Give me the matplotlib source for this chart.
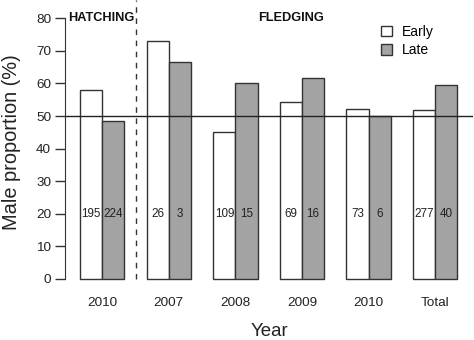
import matplotlib
matplotlib.use("Agg")
import matplotlib.pyplot as plt
from matplotlib.patches import Patch

plt.rcParams['font.family'] = ['Liberation Sans', 'DejaVu Sans']

groups = ["2010", "2007", "2008", "2009", "2010", "Total"]
early = [58.0, 73.1, 45.0, 54.3, 52.1, 51.9]
late = [48.6, 66.7, 60.1, 61.6, 50.0, 59.5]
n_early = ["195", "26", "109", "69", "73", "277"]
n_late = ["224", "3", "15", "16", "6", "40"]

W, H = 474, 340
fig = plt.figure(figsize=(W / 100, H / 100), dpi=100)
ax_left, ax_right = 65 / W, 472.5 / W
ax_bot, ax_top = (H - 289.4) / H, (H - 7.9) / H
ax = fig.add_axes([ax_left, ax_bot, ax_right - ax_left, ax_top - ax_bot])

xe = [1.5 + 3 * i for i in range(len(groups))]
xl = [2.5 + 3 * i for i in range(len(groups))]
ax.bar(xe, early, width=1.0, color="white", edgecolor="#333333", linewidth=1.0, zorder=2)
ax.bar(xl, late, width=1.0, color="#a3a3a3", edgecolor="#333333", linewidth=1.0, zorder=2)

for x, t in zip(xe, n_early):
    ax.text(x, 20, t, ha="center", va="center", fontsize=8.4, color="#222222", zorder=3)
for x, t in zip(xl, n_late):
    ax.text(x, 20, t, ha="center", va="center", fontsize=8.4, color="#222222", zorder=3)

ax.set_xlim(0.32, 18.68)
ax.set_ylim(-3.2, 83.2)

ax.axhline(50, color="#222222", linewidth=1.0, zorder=4)
ax.plot([3.5, 3.5], [0, 85.6], linestyle=(0, (4, 4)), color="#333333", linewidth=1.0, clip_on=False, zorder=1)

for sp in ["top", "right", "bottom"]:
    ax.spines[sp].set_visible(False)
ax.spines["left"].set_bounds(0, 80)
ax.spines["left"].set_color("#333333")
ax.set_yticks(range(0, 81, 10))
ax.tick_params(axis="y", length=7, width=1.0, color="#333333", labelsize=9.7, labelcolor="#222222", pad=3)
ax.set_xticks([])

for i, g in enumerate(groups):
    ax.text(2 + 3 * i, -7.4, g, ha="center", va="center", fontsize=9.7, color="#222222", clip_on=False)

ax.text(0.45, 80, "HATCHING", ha="left", va="center", fontsize=9.2, fontweight="bold", color="#111111")
ax.text(10.5, 80, "FLEDGING", ha="center", va="center", fontsize=9.2, fontweight="bold", color="#111111")

fig.text(269 / W, 1 - 332 / H, "Year", ha="center", va="center", fontsize=13.4, color="#222222")
fig.text(12 / W, 1 - 142 / H, "Male proportion (%)", ha="center", va="center", rotation=90, fontsize=14.4, color="#222222")

handles = [Patch(facecolor="white", edgecolor="#333333", linewidth=1.0, label="Early"),
           Patch(facecolor="#a3a3a3", edgecolor="#333333", linewidth=1.0, label="Late")]
fig.legend(handles=handles, loc="upper left", bbox_to_anchor=(381 / W, 1 - 25 / H),
           frameon=False, fontsize=10, handlelength=0.8, handleheight=0.8,
           handletextpad=0.7, labelspacing=0.3, borderpad=0, borderaxespad=0)

fig.savefig("out.png", dpi=100)
